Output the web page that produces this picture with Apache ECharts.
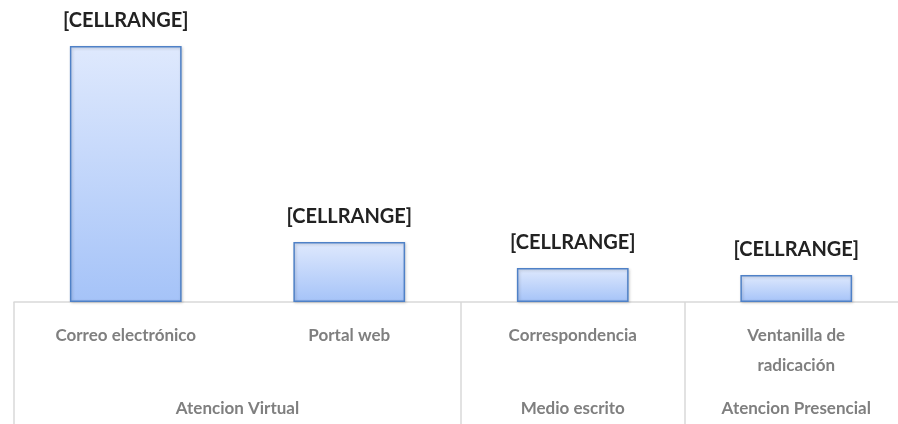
<!DOCTYPE html>
<html>
<head>
<meta charset="utf-8">
<script src="https://cdn.jsdelivr.net/npm/echarts@6/dist/echarts.min.js"></script>
<style>
  html, body { margin: 0; padding: 0; background: #fff; }
  #chart { width: 898px; height: 424px; }
</style>
</head>
<body>
<div id="chart"></div>
<script>
// sub-categories (first level of the x axis)
const categories = ["Correo electrónico", "Portal web", "Correspondencia", "Ventanilla de\nradicación"];
// values
const values = [256, 60, 34, 27];
// bar labels as shown in the picture
const barLabels = ["[CELLRANGE]", "[CELLRANGE]", "[CELLRANGE]", "[CELLRANGE]"];
// group level: name and span (in categories)
const groups = ["Atencion Virtual", "Medio escrito", "Atencion Presencial"];
const groupSpans = [2, 1, 1];

// group boundaries / centres in half-category units
const bounds = [0];
groupSpans.forEach((s) => bounds.push(bounds[bounds.length - 1] + s * 2));
const centres = groupSpans.map((s, i) => bounds[i] + s);

const labelFont = "Lato, sans-serif";

const chart = echarts.init(document.getElementById("chart"));

const option = {
  animation: false,
  grid: { left: 14, right: -10, top: 2, bottom: 122, outerBoundsMode: "none", containLabel: false },
  xAxis: [
    {
      type: "category",
      data: categories,
      axisLine: { show: true, lineStyle: { color: "#d9d9d9", width: 1.5 } },
      axisTick: { show: false },
      axisLabel: {
        interval: 0,
        margin: 19,
        color: "#7f7f7f",
        fontFamily: labelFont,
        fontWeight: "bold",
        fontSize: 17,
        lineHeight: 30,
      },
    },
    {
      type: "value",
      position: "bottom",
      min: 0,
      max: bounds[bounds.length - 1],
      axisLine: { show: false },
      splitLine: { show: false },
      axisTick: {
        show: true,
        inside: false,
        length: 122,
        customValues: bounds,
        lineStyle: { color: "#d9d9d9", width: 1.5 },
      },
      axisLabel: {
        customValues: centres,
        margin: 98,
        color: "#7f7f7f",
        fontFamily: labelFont,
        fontWeight: "bold",
        fontSize: 17,
        formatter: (v) => {
          const i = centres.indexOf(v);
          return i >= 0 ? groups[i] : "";
        },
      },
    },
  ],
  yAxis: {
    type: "value",
    min: 0,
    max: 300,
    show: false,
    splitLine: { show: false },
  },
  series: [
    {
      type: "bar",
      xAxisIndex: 0,
      barWidth: "50%",
      data: values,
      itemStyle: {
        color: new echarts.graphic.LinearGradient(0, 0, 0, 1, [
          { offset: 0, color: "#dfe9fd" },
          { offset: 1, color: "#a5c3f8" },
        ]),
        borderColor: "#4f81c7",
        borderWidth: 1.5,
        shadowColor: "rgba(0,0,0,0.2)",
        shadowBlur: 3,
        shadowOffsetX: 1,
        shadowOffsetY: 1,
      },
      label: {
        show: true,
        position: "top",
        distance: 15,
        color: "#222",
        fontFamily: labelFont,
        fontWeight: "bold",
        fontSize: 20,
        formatter: (p) => barLabels[p.dataIndex],
      },
    },
  ],
};

chart.setOption(option);
</script>
</body>
</html>
